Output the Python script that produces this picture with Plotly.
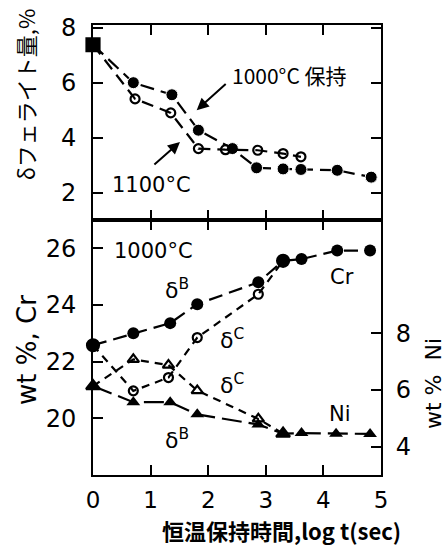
import plotly.graph_objects as go

# ---------------- data ----------------
# top panel: delta-ferrite amount (%)
start_t = [0.0]
start_ferrite = [7.38]

t_1000 = [0.70, 1.37, 1.83, 2.42, 2.84, 3.30, 3.61, 4.24, 4.83]
ferrite_1000 = [6.0, 5.56, 4.27, 3.60, 2.90, 2.86, 2.84, 2.81, 2.56]

t_1100 = [0.73, 1.35, 1.83, 2.30, 2.86, 3.30, 3.61]
ferrite_1100 = [5.41, 4.90, 3.60, 3.56, 3.54, 3.42, 3.30]

# bottom panel: Cr (left axis) and Ni (right axis), wt%
t_cr_b = [0.0, 0.70, 1.34, 1.81, 2.87, 3.30, 3.62, 4.24, 4.81]
cr_b = [22.58, 23.00, 23.36, 24.03, 24.80, 25.56, 25.62, 25.92, 25.92]

t_cr_c = [0.0, 0.70, 1.31, 1.81, 2.87, 3.30]
cr_c = [22.58, 20.97, 21.44, 22.85, 24.38, 25.56]

t_ni_b = [0.0, 0.70, 1.34, 1.81, 2.87, 3.30, 3.62, 4.22, 4.81]
ni_b = [6.14, 5.57, 5.57, 5.14, 4.78, 4.46, 4.48, 4.46, 4.45]

t_ni_c = [0.0, 0.70, 1.31, 1.81, 2.87, 3.30]
ni_c = [6.14, 7.08, 6.88, 5.98, 4.98, 4.46]

x_ticks = [0, 1, 2, 3, 4, 5]
ferrite_ticks = [2, 4, 6, 8]
cr_ticks = [20, 22, 24, 26]
ni_ticks = [4, 6, 8]

# ---------------- figure ----------------
BLACK = "#000000"
NUM_FONT = "DejaVu Sans"
JP_FONT = "Noto Sans CJK JP"

fig = go.Figure()

# top panel
fig.add_trace(go.Scatter(
    x=start_t + t_1000, y=start_ferrite + ferrite_1000, mode="lines+markers",
    xaxis="x2", yaxis="y2", cliponaxis=False,
    line=dict(color=BLACK, width=2.2, dash="14px,7px"),
    marker=dict(symbol=["square"] + ["circle"] * len(t_1000), size=[13] + [12] * len(t_1000),
                color=BLACK, opacity=1),
    showlegend=False))
fig.add_trace(go.Scatter(
    x=start_t + t_1100, y=start_ferrite + ferrite_1100, mode="lines+markers",
    xaxis="x2", yaxis="y2", cliponaxis=False,
    line=dict(color=BLACK, width=2.2, dash="12px,7px"),
    marker=dict(symbol=["square"] + ["circle-open"] * len(t_1100), size=[13] + [9] * len(t_1100),
                color=BLACK, opacity=1, line=dict(width=2.2, color=BLACK)),
    showlegend=False))

# bottom panel - Cr
fig.add_trace(go.Scatter(
    x=t_cr_c, y=cr_c, mode="lines+markers", xaxis="x", yaxis="y", cliponaxis=False,
    line=dict(color=BLACK, width=2.2, dash="8px,6px"),
    marker=dict(symbol=["circle"] + ["circle-open"] * (len(t_cr_c) - 2) + ["circle"],
                size=[12] + [9] * (len(t_cr_c) - 2) + [12], color=BLACK, opacity=1,
                line=dict(width=2.2, color=BLACK)),
    showlegend=False))
fig.add_trace(go.Scatter(
    x=t_cr_b, y=cr_b, mode="lines+markers", xaxis="x", yaxis="y", cliponaxis=False,
    line=dict(color=BLACK, width=2.2, dash="14px,7px"),
    marker=dict(symbol="circle", size=12, color=BLACK, opacity=1),
    showlegend=False))

# bottom panel - Ni (right axis)
fig.add_trace(go.Scatter(
    x=t_ni_c, y=ni_c, mode="lines+markers", xaxis="x", yaxis="y3", cliponaxis=False,
    line=dict(color=BLACK, width=2.2, dash="8px,6px"),
    marker=dict(symbol=["triangle-up"] + ["triangle-up-open"] * (len(t_ni_c) - 2) + ["triangle-up"],
                size=[12] + [10] * (len(t_ni_c) - 2) + [12], color=BLACK, opacity=1,
                line=dict(width=2.2, color=BLACK)),
    showlegend=False))
fig.add_trace(go.Scatter(
    x=t_ni_b, y=ni_b, mode="lines+markers", xaxis="x", yaxis="y3", cliponaxis=False,
    line=dict(color=BLACK, width=2.2, dash="20px,7px"),
    marker=dict(symbol="triangle-up", size=12, color=BLACK, opacity=1),
    showlegend=False))

axis_common = dict(showline=True, linewidth=2, linecolor=BLACK, ticks="inside",
                   ticklen=10, tickwidth=2, tickcolor=BLACK, showgrid=False, zeroline=False)

split = 255 / 450

fig.update_layout(
    width=446, height=546,
    margin=dict(l=93, r=65, t=25, b=71),
    paper_bgcolor="white", plot_bgcolor="white",
    font=dict(family=NUM_FONT, color=BLACK, size=22),
    xaxis=dict(domain=[0, 1], range=[0, 5], tickvals=x_ticks, anchor="y", mirror="ticks",
               tickfont=dict(size=23, family=NUM_FONT), ticklabelstandoff=3, **axis_common),
    yaxis=dict(domain=[0, split], range=[18, 27], tickvals=cr_ticks, anchor="x", mirror=True,
               tickfont=dict(size=24, family=NUM_FONT), ticklabelstandoff=10, **axis_common),
    yaxis3=dict(overlaying="y", side="right", range=[3, 12], tickvals=ni_ticks, anchor="x",
                tickfont=dict(size=24, family=NUM_FONT), ticklabelstandoff=8, **axis_common),
    xaxis2=dict(domain=[0, 1], range=[0, 5], tickvals=x_ticks, anchor="y2", mirror="ticks",
                showticklabels=False, **axis_common),
    yaxis2=dict(domain=[split, 1], range=[1.0, 8.1], tickvals=ferrite_ticks, anchor="x2", mirror="ticks",
                tickfont=dict(size=24, family=NUM_FONT), ticklabelstandoff=10, **axis_common),
)

ann = []
# top panel labels and arrows
ann.append(dict(x=2.38, y=6.29, xref="x2", yref="y2", text="1000°C 保持", showarrow=False,
                xanchor="left", yanchor="middle", font=dict(size=21, family=JP_FONT)))
ann.append(dict(x=1.80, y=5.0, xref="x2", yref="y2", ax=2.33, ay=6.0, axref="x2", ayref="y2",
                text="", showarrow=True, arrowhead=2, arrowsize=1.2, arrowwidth=2, arrowcolor=BLACK))
ann.append(dict(x=0.30, y=2.29, xref="x2", yref="y2", text="1100°C", showarrow=False,
                xanchor="left", yanchor="middle", font=dict(size=21, family=NUM_FONT)))
ann.append(dict(x=1.51, y=3.84, xref="x2", yref="y2", ax=1.04, ay=2.97, axref="x2", ayref="y2",
                text="", showarrow=True, arrowhead=2, arrowsize=1.2, arrowwidth=2, arrowcolor=BLACK))

# bottom panel labels
ann.append(dict(x=0.33, y=25.9, xref="x", yref="y", text="1000°C", showarrow=False,
                xanchor="left", yanchor="middle", font=dict(size=21)))
for lx, ly, lt in [(1.46, 24.57, "δ<sup>B</sup>"), (2.41, 22.8, "δ<sup>C</sup>"),
                   (2.41, 21.2, "δ<sup>C</sup>"), (1.46, 19.26, "δ<sup>B</sup>")]:
    ann.append(dict(x=lx, y=ly, xref="x", yref="y", text=lt, showarrow=False,
                    xanchor="center", yanchor="middle", font=dict(size=22)))
ann.append(dict(x=4.32, y=25.0, xref="x", yref="y", text="Cr", showarrow=False,
                xanchor="center", yanchor="middle", font=dict(size=21)))
ann.append(dict(x=4.29, y=20.14, xref="x", yref="y", text="Ni", showarrow=False,
                xanchor="center", yanchor="middle", font=dict(size=21)))

# axis titles
ann.append(dict(x=-0.236, y=0.844, xref="paper", yref="paper", text="δフェライト量,%", showarrow=False,
                textangle=-90, xanchor="center", yanchor="middle", font=dict(size=22, family=JP_FONT)))
ann.append(dict(x=-0.229, y=0.278, xref="paper", yref="paper", text="wt %, Cr", showarrow=False,
                textangle=-90, xanchor="center", yanchor="middle", font=dict(size=26)))
ann.append(dict(x=1.18, y=0.204, xref="paper", yref="paper", text="wt %  Ni", showarrow=False,
                textangle=-90, xanchor="center", yanchor="middle", font=dict(size=22)))
ann.append(dict(x=0.656, y=-0.122, xref="paper", yref="paper", text="<b>恒温保持時間,log t(sec)</b>",
                showarrow=False, xanchor="center", yanchor="middle", font=dict(size=22, family=JP_FONT)))

fig.update_layout(annotations=ann)

fig.write_html("out.html", config={"displayModeBar": False},
               post_script="document.body.style.margin='0';")
